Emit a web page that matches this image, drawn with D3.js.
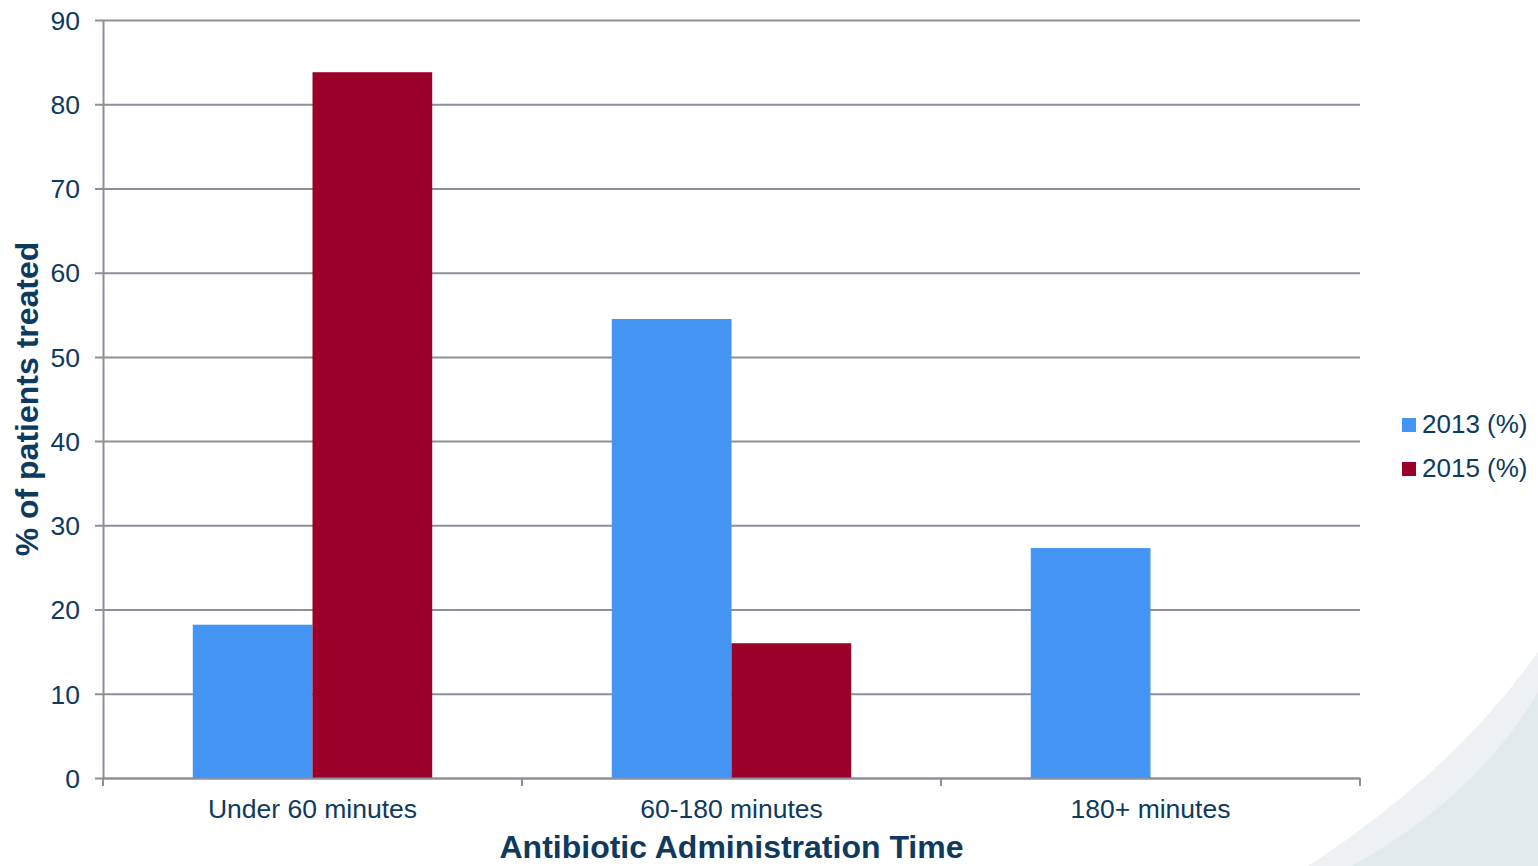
<!DOCTYPE html>
<html>
<head>
<meta charset="utf-8">
<script src="https://cdn.jsdelivr.net/npm/d3@7"></script>
<style>
  html, body { margin: 0; padding: 0; background: #ffffff; }
  svg { display: block; font-family: "Liberation Sans", Arial, sans-serif; }
</style>
</head>
<body>
<svg id="chart" width="1538" height="866"></svg>
<script>
// Share of patients by time to antibiotic administration
const categories = ["Under 60 minutes", "60-180 minutes", "180+ minutes"];
const seriesNames = ["2013 (%)", "2015 (%)"];
const values2013 = [18.2, 54.5, 27.3];
const values2015 = [83.8, 16.0, 0];
const yTicks = [0, 10, 20, 30, 40, 50, 60, 70, 80, 90];
const seriesColors = ["#4394F3", "#9B0028"];

const textColor = "#0E3A5E";
const gridColor = "#8C909A";

const svg = d3.select("#chart");
const W = 1538, H = 866;
const margin = { left: 103, right: W - 1360, top: 20, bottom: H - 778 };

// decorative background curves in the lower-right corner
svg.append("path")
  .attr("d", "M1308,866 Q1455,770 1538,652 L1538,866 Z")
  .attr("fill", "#EDF1F4");
svg.append("path")
  .attr("d", "M1352,866 Q1478,795 1538,692 L1538,866 Z")
  .attr("fill", "#E3EAEE");

const x0 = d3.scaleBand()
  .domain(categories)
  .range([margin.left, W - margin.right])
  .paddingInner(0)
  .paddingOuter(0);

const x1 = d3.scaleBand()
  .domain(seriesNames)
  .range([0, x0.bandwidth()])
  .paddingOuter(0.75)
  .paddingInner(0);

const y = d3.scaleLinear()
  .domain([0, 90])
  .range([H - margin.bottom, margin.top]);

// horizontal gridlines with left tick marks
const yAxis = d3.axisLeft(y)
  .tickValues(yTicks)
  .tickSize(-(W - margin.left - margin.right))
  .tickSizeOuter(0)
  .tickFormat(d3.format("d"));

const gy = svg.append("g")
  .attr("transform", `translate(${margin.left},0)`)
  .call(yAxis);
gy.select(".domain").attr("stroke", gridColor).attr("stroke-width", 2);
gy.selectAll(".tick line").attr("stroke", gridColor).attr("stroke-width", 2)
  .attr("x1", -8);
gy.selectAll(".tick text")
  .attr("fill", textColor)
  .attr("font-size", 26.5)
  .attr("x", -23)
  .attr("dy", "0.35em");

// bars
const data = categories.map((c, i) => ({ cat: c, vals: [values2013[i], values2015[i]] }));
const groups = svg.append("g").selectAll("g")
  .data(data)
  .join("g")
  .attr("transform", d => `translate(${x0(d.cat)},0)`);

groups.selectAll("rect")
  .data(d => d.vals.map((v, j) => ({ key: seriesNames[j], v, j })).filter(e => e.v > 0))
  .join("rect")
  .attr("x", d => x1(d.key))
  .attr("width", x1.bandwidth())
  .attr("y", d => y(d.v))
  .attr("height", d => y(0) - y(d.v))
  .attr("fill", d => seriesColors[d.j]);

// category axis
const xAxis = d3.axisBottom(x0).tickSize(0);
const gx = svg.append("g")
  .attr("transform", `translate(0,${y(0)})`)
  .call(xAxis);
gx.select(".domain").attr("stroke", gridColor).attr("stroke-width", 2);
gx.selectAll(".tick text")
  .attr("fill", textColor)
  .attr("font-size", 26.5)
  .attr("dy", null)
  .attr("y", 40);

// category boundary tick marks
const boundaries = categories.map(c => x0(c)).concat([x0.range()[1]]);
svg.append("g").selectAll("line")
  .data(boundaries)
  .join("line")
  .attr("x1", d => d).attr("x2", d => d)
  .attr("y1", y(0)).attr("y2", y(0) + 8)
  .attr("stroke", gridColor).attr("stroke-width", 2);

// axis titles
svg.append("text")
  .attr("x", (margin.left + W - margin.right) / 2)
  .attr("y", 858)
  .attr("text-anchor", "middle")
  .attr("font-size", 32)
  .attr("font-weight", "bold")
  .attr("fill", textColor)
  .text("Antibiotic Administration Time");

svg.append("text")
  .attr("transform", `translate(38,399) rotate(-90)`)
  .attr("text-anchor", "middle")
  .attr("font-size", 32)
  .attr("font-weight", "bold")
  .attr("fill", textColor)
  .text("% of patients treated");

// legend
const legend = svg.append("g").attr("transform", "translate(1402,418)");
const items = legend.selectAll("g")
  .data(seriesNames)
  .join("g")
  .attr("transform", (d, i) => `translate(0,${i * 44})`);
items.append("rect")
  .attr("width", 14).attr("height", 14)
  .attr("fill", (d, i) => seriesColors[i]);
items.append("text")
  .attr("x", 20)
  .attr("y", 15)
  .attr("font-size", 26)
  .attr("fill", textColor)
  .text(d => d);
</script>
</body>
</html>
